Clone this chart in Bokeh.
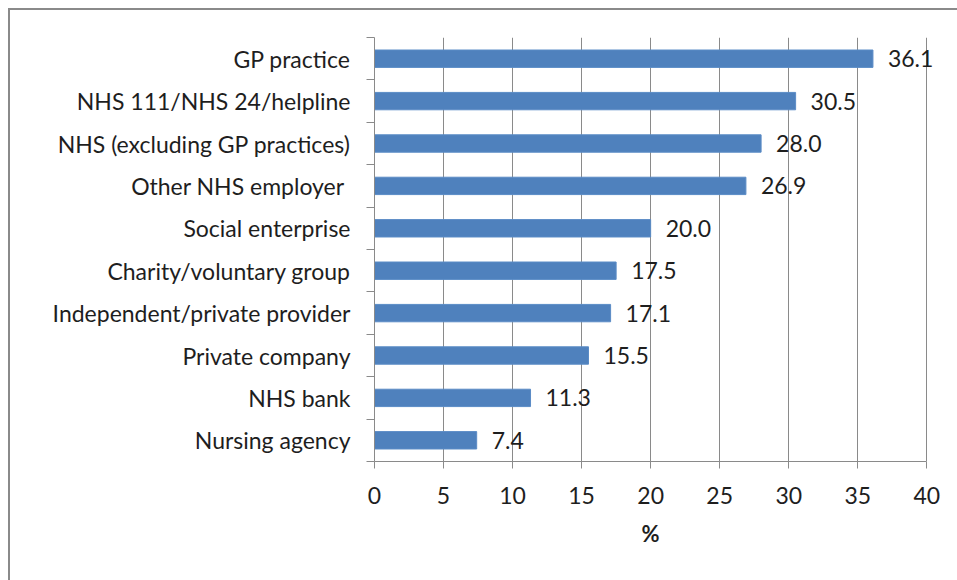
from bokeh.plotting import figure
from bokeh.models import Range1d, FixedTicker, ColumnDataSource, LinearAxis, LabelSet, Title
from bokeh.core.properties import value
from bokeh.embed import file_html
from bokeh.resources import INLINE

categories = ["GP practice", "NHS 111/NHS 24/helpline", "NHS (excluding GP practices)",
              "Other NHS employer ", "Social enterprise", "Charity/voluntary group",
              "Independent/private provider", "Private company", "NHS bank", "Nursing agency"]
values = [36.1, 30.5, 28.0, 26.9, 20.0, 17.5, 17.1, 15.5, 11.3, 7.4]
x_ticks = [0, 5, 10, 15, 20, 25, 30, 35, 40]

FONT = "Lato"
FS = "23px"
n = len(categories)
ypos = [i + 0.5 for i in range(n)]
src = ColumnDataSource(dict(y=ypos, v=values, lab=[f"{v:.1f}" for v in values], cat=categories))

p = figure(width=947, height=570, output_backend="svg", toolbar_location=None,
           x_range=Range1d(0, 41.5), y_range=Range1d(n, 0),
           x_axis_location=None, y_axis_location=None,
           min_border_left=364, min_border_right=10, min_border_top=27, min_border_bottom=119)
p.frame_width = 573
p.frame_height = 424
p.outline_line_color = None
p.background_fill_color = "white"
p.border_fill_color = "white"
p.styles = {"border-top": "2px solid #8a8a8a", "border-left": "2px solid #8a8a8a",
            "margin-left": "8px", "margin-top": "8px",
            "margin-right": "-10px", "margin-bottom": "-10px"}

p.hbar(y="y", right="v", left=0, height=0.41, source=src, fill_color="#4F81BD",
       line_color="#5B8CC6", line_width=1)
labels = LabelSet(x="v", y="y", text="lab", source=src, x_offset=15, text_baseline="middle",
                  text_align="left", text_font=value(FONT), text_font_size=value(FS),
                  text_color=value("#1e1e1e"))
p.add_layout(labels)

xaxis = LinearAxis(ticker=FixedTicker(ticks=x_ticks), bounds=(0, 40))
xaxis.axis_line_color = "#8a8a8a"
xaxis.major_tick_line_color = "#8a8a8a"
xaxis.major_tick_out = 7
xaxis.major_tick_in = 0
xaxis.minor_tick_line_color = None
xaxis.major_label_standoff = 18
xaxis.major_label_text_font = FONT
xaxis.major_label_text_font_size = FS
xaxis.major_label_text_color = "#1e1e1e"
p.add_layout(xaxis, "below")

xlabel = Title(text="%", align="left", offset=267, text_font=FONT, text_font_size="22px",
               text_font_style="bold", text_color="#1e1e1e", standoff=23)
p.add_layout(xlabel, "below")

yaxis = LinearAxis(ticker=FixedTicker(ticks=ypos, minor_ticks=list(range(n + 1))))
yaxis.major_label_overrides = {y: c for y, c in zip(ypos, categories)}
yaxis.axis_line_color = "#8a8a8a"
yaxis.major_tick_line_color = None
yaxis.minor_tick_line_color = "#8a8a8a"
yaxis.minor_tick_out = 8
yaxis.minor_tick_in = 0
yaxis.major_label_standoff = 16
yaxis.major_label_text_font = FONT
yaxis.major_label_text_font_size = FS
yaxis.major_label_text_color = "#1e1e1e"
p.add_layout(yaxis, "left")

p.xgrid.ticker = FixedTicker(ticks=x_ticks)
p.xgrid.grid_line_color = "#8a8a8a"
p.ygrid.grid_line_color = None

open("out.html", "w").write(file_html(p, INLINE))
